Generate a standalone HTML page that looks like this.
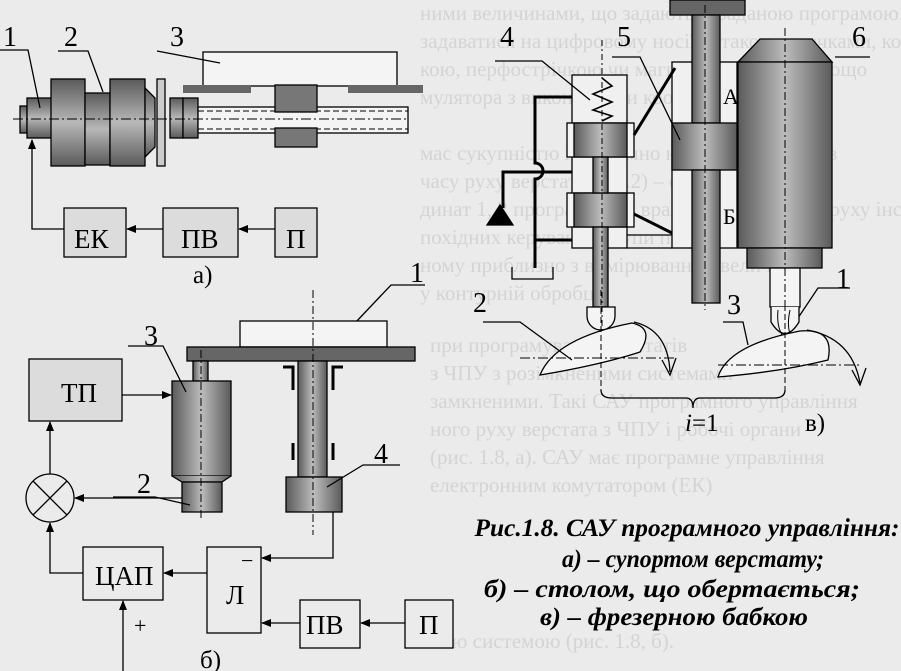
<!DOCTYPE html>
<html><head><meta charset="utf-8"><style>
html,body{margin:0;padding:0;background:#ebebeb;}
svg{display:block;}
text{font-family:"Liberation Serif",serif;}
</style></head><body>
<svg width="901" height="671" viewBox="0 0 901 671" xmlns="http://www.w3.org/2000/svg">
<defs>
<linearGradient id="gv" x1="0" y1="0" x2="0" y2="1"><stop offset="0" stop-color="#5a5a5a"/><stop offset="0.5" stop-color="#b8b8b8"/><stop offset="1" stop-color="#5a5a5a"/></linearGradient>
<linearGradient id="gh" x1="0" y1="0" x2="1" y2="0"><stop offset="0" stop-color="#5a5a5a"/><stop offset="0.5" stop-color="#bcbcbc"/><stop offset="1" stop-color="#5a5a5a"/></linearGradient>
<marker id="ar" markerWidth="10" markerHeight="8" refX="9" refY="4" orient="auto" markerUnits="userSpaceOnUse"><path d="M0,0 L10,4 L0,8 z" fill="#000"/></marker>
</defs>
<rect width="901" height="671" fill="#ebebeb"/>
<g fill="#d4d4d4" font-size="21">
<text x="420" y="20">ними величинами, що задаються заданою програмою. Програма може</text>
<text x="420" y="48">задаватися на цифровому носії, а також кулачками, копіром, перфокарт-</text>
<text x="420" y="76">кою, перфострічкою чи магнітною стрічкою тощо</text>
<text x="420" y="104">мулятора з виконавчими координатами</text>
<text x="420" y="160">мас сукупністю програмно керованих режимів</text>
<text x="420" y="188">часу руху верстата 3 (1.2) – функції коор-</text>
<text x="420" y="216">динат 1, 2 програми, що враховує траєкторію руху інструмента</text>
<text x="420" y="244">похідних керування групи по координатах</text>
<text x="420" y="272">ному приблизно з вимірюванням величин</text>
<text x="420" y="300">у контурній обробці</text>
<text x="430" y="352">при програмуванні верстатів</text>
<text x="430" y="380">з ЧПУ з розімкненими системами</text>
<text x="430" y="408">замкненими. Такі САУ програмного управління</text>
<text x="430" y="436">ного руху верстата з ЧПУ і робочі органи</text>
<text x="430" y="464">(рис. 1.8, а). САУ має програмне управління</text>
<text x="430" y="492">електронним комутатором (ЕК)</text>
<text x="430" y="648">ною системою (рис. 1.8, б).</text>
</g>

<g stroke="#000" stroke-width="1.3" fill="none">
<rect x="20" y="106" width="7" height="27" fill="url(#gv)"/>
<rect x="27" y="98" width="25" height="40" fill="url(#gv)"/>
<rect x="51" y="79" width="34" height="87" fill="url(#gv)"/>
<rect x="85" y="93" width="25" height="72" fill="url(#gv)"/>
<rect x="110" y="79" width="35" height="87" fill="url(#gv)"/>
<path d="M145,88 L155,98 L155,147 L145,157 z" fill="url(#gv)"/>
<rect x="157" y="79" width="8" height="87" fill="#ccc"/>
<rect x="170" y="98" width="13" height="40" fill="url(#gv)"/>
<rect x="183" y="98" width="15" height="40" fill="url(#gv)"/>
<rect x="198" y="107" width="210" height="26" fill="#f4f4f4"/>
<line x1="198" y1="111" x2="408" y2="111" stroke-dasharray="6,3" stroke-width="1"/>
<line x1="198" y1="129" x2="408" y2="129" stroke-dasharray="6,3" stroke-width="1"/>
<line x1="13" y1="119" x2="408" y2="119" stroke-dasharray="10,3,2,3" stroke-width="1"/>
<rect x="203" y="52" width="194" height="34" fill="#f4f4f4"/>
<rect x="183" y="85" width="68" height="8" fill="#666" stroke="none"/>
<rect x="348" y="85" width="75" height="8" fill="#666" stroke="none"/>
<rect x="275" y="85" width="42" height="27" fill="#777"/>
<rect x="275" y="128" width="42" height="19" fill="#777"/>
<path d="M0,50 H28 L40,108"/>
<path d="M58,51 H88 L103,92"/>
<path d="M157,51 L220,63"/>
<rect x="64" y="208" width="62" height="49" fill="#dcdcdc"/>
<rect x="163" y="208" width="75" height="49" fill="#dcdcdc"/>
<rect x="275" y="208" width="42" height="49" fill="#dcdcdc"/>
<line x1="275" y1="229" x2="239" y2="229" marker-end="url(#ar)"/>
<line x1="163" y1="229" x2="127" y2="229" marker-end="url(#ar)"/>
<path d="M64,229 H32 V140" marker-end="url(#ar)"/>

<path d="M355,323 L391,285 H425"/>
<rect x="240" y="321" width="147" height="26" fill="#f4f4f4"/>
<rect x="187" y="347" width="228" height="14" fill="#666"/>
<rect x="193" y="361" width="15" height="20" fill="url(#gh)"/>
<rect x="172" y="381" width="59" height="95" fill="url(#gh)"/>
<path d="M172,476 L182,482 H222 L231,476" fill="url(#gh)"/>
<rect x="182" y="482" width="40" height="30" fill="url(#gh)"/>
<rect x="298" y="361" width="29" height="116" fill="url(#gh)"/>
<rect x="286" y="477" width="56" height="35" fill="url(#gh)"/>
<line x1="201" y1="350" x2="201" y2="520" stroke-dasharray="8,3,2,3" stroke-width="1"/>
<line x1="313" y1="290" x2="313" y2="535" stroke-dasharray="8,3,2,3" stroke-width="1"/>
<path d="M283,367 H293 V390" stroke-width="3"/>
<path d="M343,367 H333 V390" stroke-width="3"/>
<line x1="293" y1="443" x2="293" y2="460" stroke-width="3"/>
<line x1="333" y1="443" x2="333" y2="460" stroke-width="3"/>
<path d="M128,346 H163 L186,392"/>
<path d="M113,497 H155 L190,505"/>
<path d="M400,465 H363 L327,487"/>
<rect x="29" y="359" width="93" height="62" fill="#dcdcdc"/>
<line x1="122" y1="395" x2="171" y2="395" marker-end="url(#ar)"/>
<circle cx="50" cy="498" r="24" fill="#ebebeb"/>
<line x1="33" y1="481" x2="67" y2="515"/><line x1="67" y1="481" x2="33" y2="515"/>
<line x1="50" y1="474" x2="50" y2="422" marker-end="url(#ar)"/>
<line x1="182" y1="498" x2="75" y2="498" marker-end="url(#ar)"/>
<rect x="83" y="547" width="80" height="53" fill="#ebebeb"/>
<path d="M83,573 H50 V523" marker-end="url(#ar)"/>
<rect x="207" y="547" width="54" height="86" fill="#ebebeb"/>
<line x1="207" y1="573" x2="164" y2="573" marker-end="url(#ar)"/>
<path d="M333,512 V558 H262" marker-end="url(#ar)"/>
<rect x="300" y="600" width="60" height="48" fill="#ebebeb"/>
<rect x="405" y="600" width="48" height="48" fill="#ebebeb"/>
<line x1="405" y1="623" x2="361" y2="623" marker-end="url(#ar)"/>
<line x1="300" y1="623" x2="262" y2="623" marker-end="url(#ar)"/>
<line x1="123" y1="671" x2="123" y2="601" marker-end="url(#ar)"/>

<rect x="670" y="0" width="75" height="15" fill="#666"/>
<rect x="672" y="62" width="65" height="186" fill="#f0f0f0"/>
<rect x="692" y="15" width="28" height="108" fill="url(#gh)"/>
<rect x="672" y="123" width="65" height="47" fill="url(#gh)"/>
<rect x="692" y="170" width="28" height="133" fill="url(#gh)"/>
<line x1="705" y1="5" x2="705" y2="310" stroke-dasharray="8,3,2,3" stroke-width="1"/>
<path d="M738,62 L760,39 H812 L832,62 z" fill="url(#gh)"/>
<rect x="738" y="62" width="94" height="186" fill="url(#gh)"/>
<rect x="747" y="248" width="75" height="20" fill="url(#gh)"/>
<rect x="770" y="268" width="30" height="39" fill="#f4f4f4"/>
<line x1="785" y1="28" x2="785" y2="320" stroke-dasharray="8,3,2,3" stroke-width="1"/>
<path d="M835,57 H870"/>
<rect x="572" y="75" width="55" height="173" fill="#f0f0f0"/>
<rect x="567" y="123" width="67" height="34" fill="#f4f4f4"/>
<rect x="574" y="123" width="53" height="34" fill="url(#gh)"/>
<rect x="567" y="193" width="67" height="34" fill="#f4f4f4"/>
<rect x="574" y="193" width="53" height="34" fill="url(#gh)"/>
<rect x="593" y="157" width="15" height="36" fill="url(#gh)"/>
<rect x="593" y="227" width="15" height="80" fill="url(#gh)"/>
<path d="M587,307 H615 V316 A14,14 0 0 1 587,316 z" fill="#f4f4f4"/>
<path d="M602,78 L612,86 L593,94 L612,102 L593,110 L612,116 L602,121" stroke-width="1.6"/>
<line x1="602" y1="40" x2="602" y2="345" stroke-dasharray="6,3,2,3" stroke-width="1"/>
<g stroke-width="3">
<path d="M572,97 H535 V163 A8,8 0 0 1 535,179 V268"/>
<path d="M572,172 H503 V208"/>
<path d="M572,240 H535"/>
<line x1="634" y1="135" x2="675" y2="68"/>
<line x1="634" y1="214" x2="672" y2="233"/>
</g>
<path d="M487,225 L500,205 L513,225 z" fill="#000"/>
<path d="M512,267 V279 H553 V267"/>
<line x1="627" y1="235" x2="672" y2="235"/>
<line x1="627" y1="248" x2="672" y2="248"/>
<path d="M495,61 H542 L590,100"/>
<path d="M612,57 H640 L680,140"/>
<path d="M850,288 H818 L790,330"/>
<path d="M771,307 V322 Q785,345 799,322 V307" fill="#f4f4f4"/>
<path d="M778,310 Q776,330 786,340 M790,310 Q786,328 792,338" stroke-width="1"/>
<path d="M540,375 Q555,338 632,323 Q655,328 640,352 Q600,365 540,375 z" fill="#f4f4f4"/>
<line x1="520" y1="358" x2="677" y2="358" stroke-dasharray="10,3,2,3" stroke-width="1"/>
<path d="M634,322 Q668,330 670,372"/>
<path d="M662,360 L670,375 L676,358"/>
<path d="M483,322 H520 L572,360"/>
<line x1="601" y1="290" x2="601" y2="392" stroke-dasharray="6,3" stroke-width="1"/>
<path d="M718,377 Q728,345 800,331 Q835,328 828,360 Q780,372 718,377 z" fill="#f4f4f4"/>
<line x1="718" y1="365" x2="862" y2="365" stroke-dasharray="10,3,2,3" stroke-width="1"/>
<path d="M807,330 Q852,338 860,383"/>
<path d="M852,370 L860,385 L866,368"/>
<path d="M723,322 H743 L748,345"/>
<line x1="785" y1="305" x2="785" y2="392" stroke-dasharray="6,3" stroke-width="1"/>
<path d="M601,390 Q601,398 612,398 H686 Q693,398 693,408 Q693,398 700,398 H774 Q785,398 785,390"/>
</g>

<g fill="#000" font-size="28">
<text x="3" y="46">1</text><text x="64" y="46">2</text><text x="170" y="46">3</text>
<text x="74" y="248" font-size="27">ЕК</text><text x="181" y="248" font-size="27">ПВ</text><text x="286" y="248" font-size="27">П</text>
<text x="193" y="283" font-size="25">а)</text>
<text x="410" y="282">1</text>
<text x="144" y="345">3</text><text x="137" y="493">2</text><text x="374" y="463">4</text>
<text x="61" y="402" font-size="27">ТП</text>
<text x="95" y="585" font-size="27">ЦАП</text>
<text x="226" y="604" font-size="27">Л</text>
<text x="241" y="568" font-size="22">−</text>
<text x="306" y="634" font-size="27">ПВ</text><text x="419" y="634" font-size="27">П</text>
<text x="134" y="633" font-size="22">+</text>
<text x="200" y="668" font-size="25">б)</text>
<text x="500" y="46">4</text><text x="617" y="46">5</text><text x="852" y="46">6</text>
<text x="723" y="104" font-size="22">А</text><text x="723" y="224" font-size="22">Б</text>
<text x="836" y="288">1</text>
<text x="473" y="312">2</text><text x="727" y="314">3</text>
<text x="685" y="431" font-size="25"><tspan font-style="italic">i</tspan>=1</text>
<text x="805" y="431" font-size="25">в)</text>
</g>
<g fill="#000" font-weight="bold" font-style="italic" font-size="25" text-anchor="middle">
<text x="687" y="536" textLength="425" lengthAdjust="spacingAndGlyphs">Рис.1.8. САУ програмного управління:</text>
<text x="693" y="567" textLength="262" lengthAdjust="spacingAndGlyphs">а) – супортом верстату;</text>
<text x="672" y="597" textLength="376" lengthAdjust="spacingAndGlyphs">б) – столом, що обертається;</text>
<text x="674" y="625" textLength="268" lengthAdjust="spacingAndGlyphs">в) – фрезерною бабкою</text>
</g>
</svg>
</body></html>
